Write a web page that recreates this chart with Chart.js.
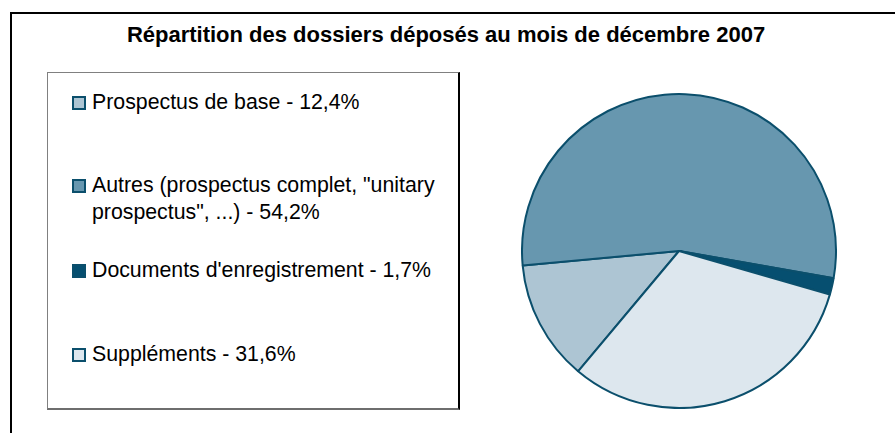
<!DOCTYPE html>
<html lang="fr">
<head>
<meta charset="utf-8">
<title>Répartition des dossiers déposés</title>
<script src="https://cdn.jsdelivr.net/npm/chart.js@4"></script>
<style>
  html, body {
    margin: 0;
    padding: 0;
    width: 895px;
    height: 433px;
    overflow: hidden;
    background: #fff;
  }
  .frame {
    position: absolute;
    left: 10px;
    top: 12px;
    width: 900px;
    height: 430px;
    border-left: 2px solid #000;
    border-top: 2px solid #000;
  }
  .title {
    position: absolute;
    left: 0;
    top: 22px;
    width: 892px;
    text-align: center;
    font-family: "Liberation Sans Narrow", "Liberation Sans", Arial, sans-serif;
    font-weight: bold;
    font-size: 22px;
    color: #000;
  }
  .legend-box {
    position: absolute;
    left: 47px;
    top: 72px;
    width: 413px;
    height: 338px;
    border-top: 1px solid #808080;
    border-left: 1px solid #808080;
    border-bottom: 2px solid #6e6e6e;
    border-right: 2px solid #000;
    box-sizing: border-box;
  }
  .legend-box ul {
    list-style: none;
    margin: 0;
    padding: 0;
  }
  .legend-box li {
    position: absolute;
    left: 24px;
    display: flex;
    align-items: flex-start;
    font-family: "Liberation Sans", Arial, sans-serif;
    font-size: 21.3px;
    line-height: 27px;
    color: #000;
  }
  .legend-box li:nth-child(1) { top: 16px; }
  .legend-box li:nth-child(2) { top: 99px; }
  .legend-box li:nth-child(3) { top: 184px; }
  .legend-box li:nth-child(4) { top: 268px; }
  .legend-box .swatch {
    width: 14px;
    height: 14px;
    box-sizing: border-box;
    margin-top: 7px;
    margin-right: 6px;
    flex: none;
  }
  .legend-box .text {
    width: 354px;
  }
  .pie-wrap {
    position: absolute;
    left: 521px;
    top: 93px;
    width: 316px;
    height: 316px;
  }
</style>
</head>
<body>
<div class="frame"></div>
<div class="title">Répartition des dossiers déposés au mois de décembre 2007</div>
<div class="legend-box"><ul id="legendList"></ul></div>
<div class="pie-wrap"><canvas id="pieChart" width="316" height="316"></canvas></div>

<script>
const categories = [
  "Prospectus de base",
  "Autres (prospectus complet, \"unitary prospectus\", ...)",
  "Documents d'enregistrement",
  "Suppléments",
];
const shares = [12.4, 54.2, 1.7, 31.6];
const sliceColors = ["#adc5d3", "#6797af", "#064f70", "#dde7ee"];
const edgeColor = "#0b4f6c";

function formatShare(value) {
  return value.toFixed(1).replace(".", ",") + "%";
}

// draws the legend as html so long labels can wrap like the original
const htmlLegend = {
  id: "htmlLegend",
  afterUpdate(chart) {
    const list = document.getElementById("legendList");
    list.innerHTML = "";
    const items = chart.options.plugins.legend.labels.generateLabels(chart);
    items.forEach((item) => {
      const li = document.createElement("li");
      const box = document.createElement("span");
      box.className = "swatch";
      box.style.background = item.fillStyle;
      box.style.border = `2px solid ${edgeColor}`;
      const text = document.createElement("span");
      text.className = "text";
      text.textContent = `${categories[item.index]} - ${formatShare(shares[item.index])}`;
      li.appendChild(box);
      li.appendChild(text);
      list.appendChild(li);
    });
  },
};

new Chart(document.getElementById("pieChart"), {
  type: "pie",
  data: {
    labels: categories,
    datasets: [
      {
        data: shares,
        backgroundColor: sliceColors,
        borderColor: edgeColor,
        borderWidth: 2,
      },
    ],
  },
  options: {
    responsive: false,
    animation: false,
    rotation: 220,
    layout: { padding: 0 },
    plugins: {
      legend: { display: false },
      tooltip: { enabled: false },
    },
  },
  plugins: [htmlLegend],
});
</script>
</body>
</html>
